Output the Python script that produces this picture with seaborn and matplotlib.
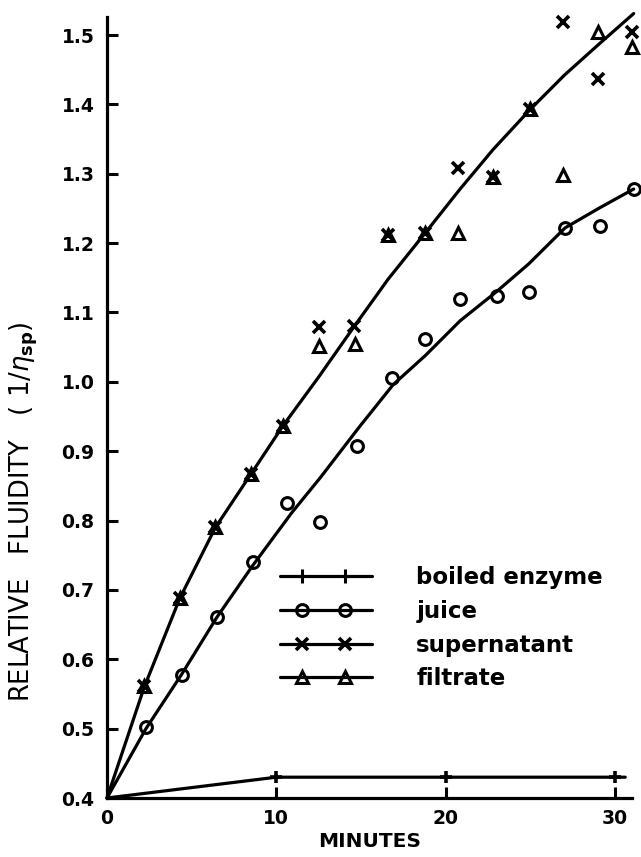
import numpy as np
import pandas as pd
import matplotlib
matplotlib.use("Agg")
import matplotlib.pyplot as plt
import seaborn as sns
from matplotlib.lines import Line2D
from matplotlib.legend_handler import HandlerBase

# ---------------- data ----------------
juice_t = [2.3, 4.4, 6.5, 8.6, 10.6, 12.6, 14.75, 16.8, 18.8, 20.85, 23.0, 24.9, 27.05, 29.1, 31.1]
juice_y = [0.502, 0.578, 0.661, 0.740, 0.826, 0.798, 0.908, 1.005, 1.062, 1.119, 1.124, 1.130, 1.222, 1.224, 1.278]

super_t = [2.2, 4.3, 6.4, 8.5, 10.4, 12.5, 14.6, 16.6, 18.8, 20.75, 22.8, 25.0, 26.9, 29.0, 31.0]
super_y = [0.561, 0.688, 0.790, 0.867, 0.937, 1.079, 1.081, 1.211, 1.215, 1.308, 1.295, 1.393, 1.519, 1.437, 1.505]

filt_t = [2.2, 4.3, 6.4, 8.5, 10.4, 12.5, 14.65, 16.6, 18.8, 20.75, 22.8, 25.0, 26.9, 29.0, 31.0]
filt_y = [0.561, 0.688, 0.790, 0.867, 0.937, 1.052, 1.055, 1.211, 1.215, 1.215, 1.295, 1.393, 1.298, 1.505, 1.483]

boiled_t = [10, 20, 30]
boiled_y = [0.43, 0.43, 0.43]

# hand-drawn fitted curves
super_fit_t = [0, 2.2, 4.3, 6.4, 8.5, 10.4, 12.5, 14.6, 16.6, 18.8, 20.85, 22.8, 25.0, 27.0, 29.1, 31.1]
super_fit_y = [0.40, 0.56, 0.688, 0.79, 0.867, 0.937, 1.007, 1.08, 1.148, 1.215, 1.278, 1.335, 1.393, 1.442, 1.488, 1.531]
juice_fit_t = [0, 2.3, 4.4, 6.5, 8.6, 10.9, 12.6, 14.9, 16.9, 18.8, 20.85, 23.0, 24.9, 27.05, 29.1, 31.1]
juice_fit_y = [0.40, 0.50, 0.578, 0.661, 0.735, 0.811, 0.862, 0.935, 0.996, 1.038, 1.088, 1.13, 1.17, 1.222, 1.251, 1.278]
boiled_fit_t = [0, 10, 20, 30.6]
boiled_fit_y = [0.40, 0.43, 0.43, 0.43]

x_ticks = [0, 10, 20, 30]
x_tick_labels = ["0", "10", "20", "30"]
y_ticks = [0.4, 0.5, 0.6, 0.7, 0.8, 0.9, 1.0, 1.1, 1.2, 1.3, 1.4, 1.5]
y_tick_labels = ["0.4", "0.5", "0.6", "0.7", "0.8", "0.9", "1.0", "1.1", "1.2", "1.3", "1.4", "1.5"]
legend_labels = ["boiled enzyme", "juice", "supernatant", "filtrate"]

# ---------------- style ----------------
sns.set_style("ticks")
plt.rcParams["font.family"] = ["DejaVu Sans"]
plt.rcParams["text.color"] = "black"
plt.rcParams["axes.labelcolor"] = "black"
plt.rcParams["xtick.color"] = "black"
plt.rcParams["ytick.color"] = "black"
plt.rcParams["axes.edgecolor"] = "black"

W, H = 641, 857
fig = plt.figure(figsize=(W / 100, H / 100), dpi=100)
ax_left, ax_right, ax_bottom, ax_top = 107, 632, 798, 17
ax = fig.add_axes([ax_left / W, 1 - ax_bottom / H, (ax_right - ax_left) / W, (ax_bottom - ax_top) / H])

LW = 2.3
K = "black"

# fitted lines
for tx, ty in [(super_fit_t, super_fit_y), (juice_fit_t, juice_fit_y), (boiled_fit_t, boiled_fit_y)]:
    sns.lineplot(x=tx, y=ty, color=K, lw=LW, ax=ax, estimator=None, sort=False, clip_on=False)

mk = dict(linestyle="", estimator=None, sort=False, clip_on=False, ax=ax)
sns.lineplot(x=juice_t, y=juice_y, marker="o", ms=8.5, mfc="none", mec=K, mew=2.2, color=K, **mk)
sns.lineplot(x=filt_t, y=filt_y, marker="^", ms=8.5, mfc="none", mec=K, mew=2.2, color=K, **mk)
sns.lineplot(x=super_t, y=super_y, marker="x", ms=9, mec=K, mew=2.6, color=K, **mk)
sns.lineplot(x=boiled_t, y=boiled_y, marker="+", ms=9, mec=K, mew=2.6, color=K, **mk)

ax.set_xlim(0, 31.0)
ax.set_ylim(0.4, 1.526)
ax.set_xticks(x_ticks)
ax.set_xticklabels(x_tick_labels)
ax.set_yticks(y_ticks)
ax.set_yticklabels(y_tick_labels)
sns.despine(ax=ax)
for s in ["left", "bottom"]:
    ax.spines[s].set_linewidth(2.3)
    ax.spines[s].set_color(K)
ax.tick_params(axis="both", direction="in", length=8, width=2.2, colors=K, labelsize=13.5)
ax.tick_params(axis="y", pad=9)
ax.tick_params(axis="x", pad=8)
for lab in ax.get_xticklabels() + ax.get_yticklabels():
    lab.set_fontweight("bold")

ax.set_xlabel("MINUTES", fontsize=14.5, fontweight="bold", labelpad=3)
ax.set_ylabel(r"RELATIVE   FLUIDITY   ( $1/\eta_{\mathbf{sp}}$)", fontsize=18.5)
ax.yaxis.set_label_coords(-0.128, 0.367)


# legend with two markers on a longer line
class TwoMarkHandler(HandlerBase):
    def create_artists(self, legend, orig_handle, xdescent, ydescent, width, height, fontsize, trans):
        y = (height - ydescent) / 2
        xs = np.array([0.0, 0.24, 0.71, 1.0]) * width - xdescent
        line = Line2D(xs, [y] * 4)
        self.update_prop(line, orig_handle, legend)
        line.set_markevery([1, 2])
        line.set_transform(trans)
        return [line]


handles = [
    Line2D([], [], color=K, lw=LW, marker="|", ms=10, mew=2.2),
    Line2D([], [], color=K, lw=LW, marker="o", ms=8.5, mfc="none", mec=K, mew=2.2),
    Line2D([], [], color=K, lw=LW, marker="x", ms=9, mec=K, mew=2.6),
    Line2D([], [], color=K, lw=LW, marker="^", ms=8.5, mfc="none", mec=K, mew=2.2),
]
leg = ax.legend(handles, legend_labels, handler_map={Line2D: TwoMarkHandler()},
                loc="upper left",
                bbox_to_anchor=((280 - ax_left) / (ax_right - ax_left), (ax_bottom - 566) / (ax_bottom - ax_top)),
                frameon=False, handlelength=4.0, handletextpad=1.95, labelspacing=0.47,
                borderpad=0, borderaxespad=0, prop={"size": 16.5, "weight": "bold"})

fig.savefig("out.png", dpi=100)
